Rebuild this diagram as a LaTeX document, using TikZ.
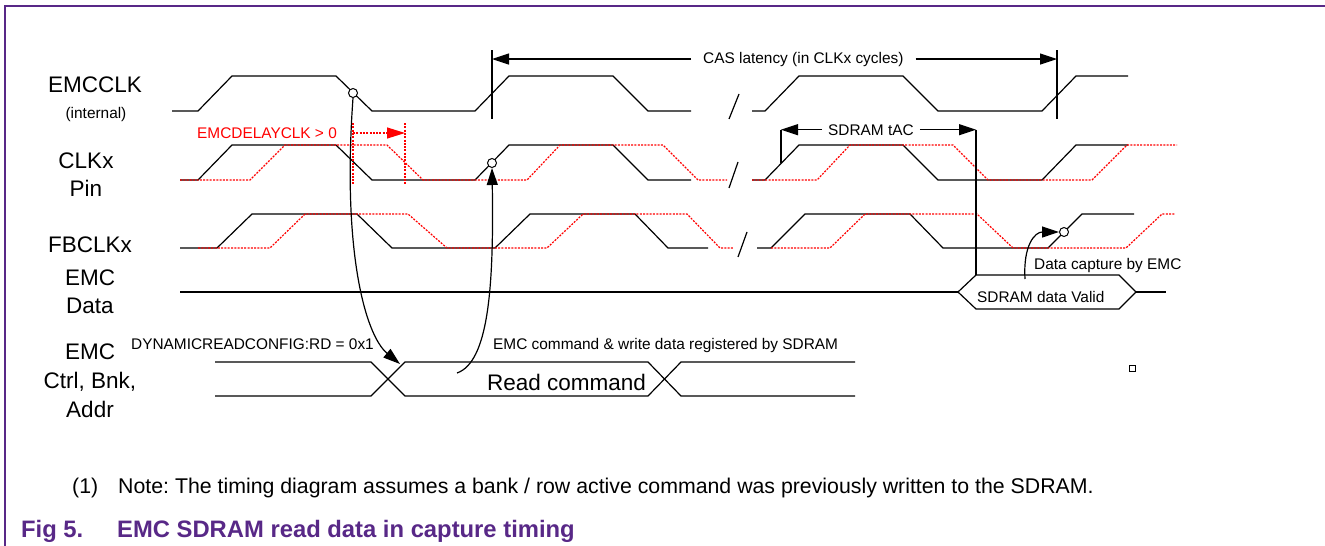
\documentclass[tikz,border=0pt]{standalone}
\usepackage{fontspec}
\setmainfont{Liberation Sans}
\usetikzlibrary{arrows.meta}
\definecolor{nxppurple}{RGB}{88,40,135}
\definecolor{sigred}{RGB}{255,0,0}
\frenchspacing
\begin{document}
\begin{tikzpicture}[x=1pt,y=-1pt,
  wave/.style={line width=1.2pt},
  dly/.style={sigred, line width=1.2pt, dash pattern=on 2pt off 1.3pt},
  big/.style={font=\fontsize{22.5}{27}\selectfont, inner sep=0pt},
  small/.style={font=\fontsize{15.4}{18}\selectfont, inner sep=0pt},
  lbl/.style={big, anchor=base},
  probe/.style={circle, draw, fill=white, line width=1pt, minimum size=9pt, inner sep=0pt},
  arr/.style={line width=1.2pt, -{Triangle[length=17pt,width=11pt]}},
  redarr/.style={dly, -{Triangle[length=18pt,width=11pt]}},
]
\useasboundingbox (0,0) rectangle (1325,546);
% frame
\draw[nxppurple, line width=2pt] (5,546) -- (5,6) -- (1325,6);

% signal labels
\node[lbl] (lemcclk) at (95,92) {EMCCLK};
\node[small, anchor=base] (lint) at (96,118) {(internal)};
\node[lbl] (lclk) at (86,168) {CLKx};
\node[lbl] (lpin) at (86,196) {Pin};
\node[lbl] (lfb) at (90,252) {FBCLKx};
\node[lbl] (lemc1) at (90,285) {EMC};
\node[lbl] (ldata) at (90,313) {Data};
\node[lbl] (lemc2) at (90,359) {EMC};
\node[lbl] (lctrl) at (90,388) {Ctrl, Bnk,};
\node[lbl] (laddr) at (90,417) {Addr};

% EMCCLK
\draw[wave] (172,111) -- (198,111) -- (232,76) -- (336,76) -- (372,111) -- (475,111) -- (509,76) -- (613,76) -- (648,111) -- (691,111);
\draw[wave] (752,111) -- (765,111) -- (799,76) -- (903,76) -- (938,111) -- (1042,111) -- (1076,76) -- (1128,76);
\draw[wave] (729,119) -- (739,94);

% CLKx pin
\draw[wave] (180,180) -- (198,180) -- (232,145) -- (336,145) -- (372,180) -- (475,180) -- (509,145) -- (613,145) -- (648,180) -- (691,180);
\draw[wave] (752,180) -- (765,180) -- (799,145) -- (903,145) -- (938,180) -- (1042,180) -- (1076,145) -- (1128,145);
\draw[dly] (180,180) -- (250,180) -- (285,145) -- (387,145) -- (423,180) -- (527,180) -- (560,145) -- (663,145) -- (698,180) -- (727,180);
\draw[dly] (752,180) -- (817,180) -- (850,145) -- (953,145) -- (988,180) -- (1092,180) -- (1127,145) -- (1177,145);
\draw[wave] (729,188) -- (738,162);

% FBCLKx
\draw[wave] (180,248) -- (217,248) -- (252,214) -- (357,214) -- (392,248) -- (495,248) -- (530,214) -- (635,214) -- (668,248) -- (708,248);
\draw[wave] (757,248) -- (771,248) -- (805,214) -- (910,214) -- (943,248) -- (1048,248) -- (1082,214) -- (1134,214);
\draw[dly] (198,248) -- (270,248) -- (305,214) -- (408,214) -- (447,248) -- (547,248) -- (583,214) -- (687,214) -- (720,248) -- (733,248);
\draw[dly] (771,248) -- (830,248) -- (865,214) -- (977,214) -- (1013,248) -- (1126,248) -- (1162,214) -- (1175,214);
\draw[wave] (738,257) -- (747,232);

% EMC data
\draw[wave] (180,292) -- (958,292);
\draw[wave] (958,292) -- (976,275) -- (1119,275) -- (1136,292) -- (1119,309) -- (976,309) -- cycle;
\draw[wave] (1136,292) -- (1166,292);
\node[small, anchor=base west] (tvalid) at (977,302) {SDRAM data Valid};

% EMC ctrl bus
\draw[wave] (215,362) -- (371,362) -- (405,396) -- (648,396) -- (681,362) -- (855,362);
\draw[wave] (215,396) -- (371,396) -- (405,362) -- (648,362) -- (681,396) -- (855,396);
\node[big, anchor=base west] (tread) at (487,390) {Read command};
\node[small, anchor=base west] (tdyn) at (131,349) {DYNAMICREADCONFIG:RD = 0x1};
\node[small, anchor=base west] (tcmd) at (493,349) {EMC command \& write data registered by SDRAM};

% CAS latency
\node[small, anchor=base west, inner xsep=12pt] (tcas) at (691,63) {CAS latency (in CLKx cycles)};
\coordinate (casL) at (492,50);
\coordinate (casR) at (1057,50);
\draw[wave] (casL) -- (492,119);
\draw[wave] (casR) -- (1057,119);
\draw[arr] (tcas.west) -- (casL |- tcas.west);
\draw[arr] (tcas.east) -- (casR |- tcas.east);

% SDRAM tAC
\node[small, anchor=base west, inner xsep=6pt] (ttac) at (822,135) {SDRAM tAC};
\coordinate (tacL) at (781,163);
\coordinate (tacR) at (976,275);
\draw[wave] (tacL |- ttac.west) -- (tacL);
\draw[wave] (tacR |- ttac.east) -- (tacR);
\draw[arr] (ttac.west) -- (tacL |- ttac.west);
\draw[arr] (ttac.east) -- (tacR |- ttac.east);

% EMCDELAYCLK
\node[small, anchor=base west, text=sigred] (tdelay) at (197,138) {EMCDELAYCLK > 0};
\coordinate (d1) at (353,123);
\coordinate (d2) at (405,123);
\draw[dly] (d1) -- (353,185);
\draw[dly] (d2) -- (405,185);
\draw[redarr] (353,133) -- (405,133);

% probe points
\node[probe] (p1) at (353,93) {};
\node[probe] (p2) at (492,163) {};
\node[probe] (p3) at (1064,232) {};

\coordinate (a1end) at (400,364);
\draw[arr] (p1.south) .. controls (342,250) and (365,335) .. (a1end);
\coordinate (a2start) at (457,373);
\draw[arr] (a2start) .. controls (488,362) and (494,290) .. (p2.south);
\coordinate (a3start) at (1025,279);
\draw[arr] (a3start) .. controls (1023,245) and (1035,232) .. (p3.west);
\node[small, anchor=base west] (tcap) at (1034,269) {Data capture by EMC};

% small square
\draw[line width=1pt] (1129,365) rectangle (1135,371);

% note and caption
\node[font=\fontsize{21.3}{25}\selectfont, anchor=base west, inner sep=0pt] (tnum) at (72,493) {(1)};
\node[font=\fontsize{21.3}{25}\selectfont, anchor=base west, inner sep=0pt] (tnote) at (118,493) {Note: The timing diagram assumes a bank / row active command was previously written to the SDRAM.};
\node[font=\bfseries\fontsize{23.8}{28}\selectfont, text=nxppurple, anchor=base west, inner sep=0pt] (tfig) at (21,537) {Fig 5.};
\node[font=\bfseries\fontsize{23.8}{28}\selectfont, text=nxppurple, anchor=base west, inner sep=0pt] (tcaption) at (117,537) {EMC SDRAM read data in capture timing};
\end{tikzpicture}
\end{document}
